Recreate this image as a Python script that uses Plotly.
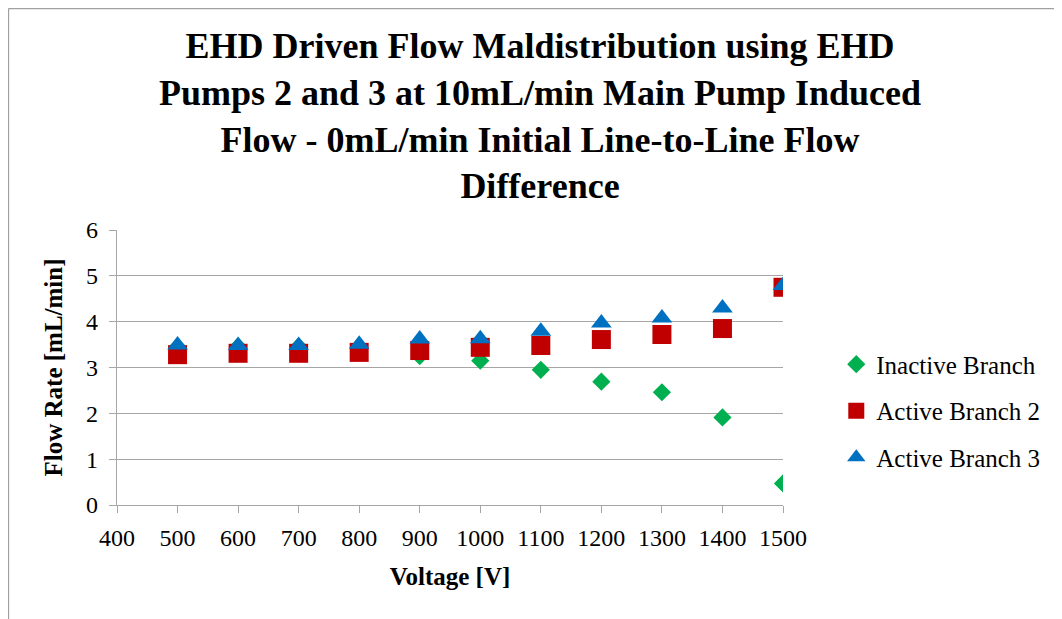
import plotly.graph_objects as go

# values
voltage = [500, 600, 700, 800, 900, 1000, 1100, 1200, 1300, 1400, 1500]
inactive_branch = [3.45, 3.46, 3.46, 3.38, 3.25, 3.15, 2.95, 2.69, 2.46, 1.91, 0.47]
active_branch_2 = [3.28, 3.31, 3.31, 3.33, 3.37, 3.44, 3.48, 3.61, 3.72, 3.85, 4.75]
active_branch_3 = [3.49, 3.48, 3.48, 3.51, 3.62, 3.63, 3.79, 3.97, 4.08, 4.30, 4.79]

title_text = ("EHD Driven Flow Maldistribution using EHD<br>"
              "Pumps 2 and 3 at 10mL/min Main Pump Induced<br>"
              "Flow - 0mL/min Initial Line-to-Line Flow<br>"
              "Difference")

serif = "Liberation Serif, Times New Roman, serif"
grid_grey = "#A6A6A6"

fig = go.Figure()
fig.add_trace(go.Scatter(x=voltage, y=inactive_branch, mode='markers', name='Inactive Branch',
                         legendgroup='a', marker=dict(symbol='diamond', size=14, color='#00B050')))
fig.add_trace(go.Scatter(x=voltage, y=active_branch_2, mode='markers', name='Active Branch 2',
                         legendgroup='b', marker=dict(symbol='square', size=19, color='#C00000')))
fig.add_trace(go.Scatter(x=voltage, y=active_branch_3, mode='markers', name='Active Branch 3',
                         legendgroup='c', marker=dict(symbol='triangle-up', size=18, color='#0070C0')))

# page has an 8px body margin, so the figure is a little smaller than the window
fig.update_layout(
    width=1054, height=611,
    margin=dict(l=109, r=279, t=222, b=114),
    paper_bgcolor='white', plot_bgcolor='white',
    font=dict(family=serif, size=24, color='black'),
    title=dict(text="<b>" + title_text + "</b>", x=532 / 1054, xanchor='center',
               y=1 - 50 / 611, yanchor='top', font=dict(family=serif, size=36, color='black')),
    legend=dict(x=1.08, y=0.342, yanchor='middle', xanchor='left', font=dict(size=25),
                tracegroupgap=11, itemwidth=30),
    showlegend=True,
)

fig.update_xaxes(range=[400, 1500], dtick=100, showgrid=False, showline=True, linecolor=grid_grey,
                 linewidth=1.3, ticks='outside', ticklen=7, tickcolor=grid_grey, zeroline=False,
                 ticklabelstandoff=4,
                 title=dict(text="<b>Voltage [V]</b>", font=dict(size=25), standoff=17))
fig.update_yaxes(range=[0, 6], dtick=1, showgrid=True, gridcolor=grid_grey, gridwidth=1.3,
                 showline=True, linecolor=grid_grey, linewidth=1.3, ticks='outside', ticklen=7,
                 tickcolor=grid_grey, zeroline=False, ticklabelstandoff=6,
                 title=dict(text="<b>Flow Rate [mL/min]</b>", font=dict(size=25), standoff=16))

# chart frame (partly cropped in the reference)
fig.add_shape(type='line', xref='paper', yref='paper', x0=-0.1629, x1=2, y0=1.8055, y1=1.8055,
              line=dict(color='#A0A0A0', width=1.3))
fig.add_shape(type='line', xref='paper', yref='paper', x0=-0.1629, x1=-0.1629, y0=-1, y1=1.8055,
              line=dict(color='#A0A0A0', width=1.3))

fig.write_html("out.html")
